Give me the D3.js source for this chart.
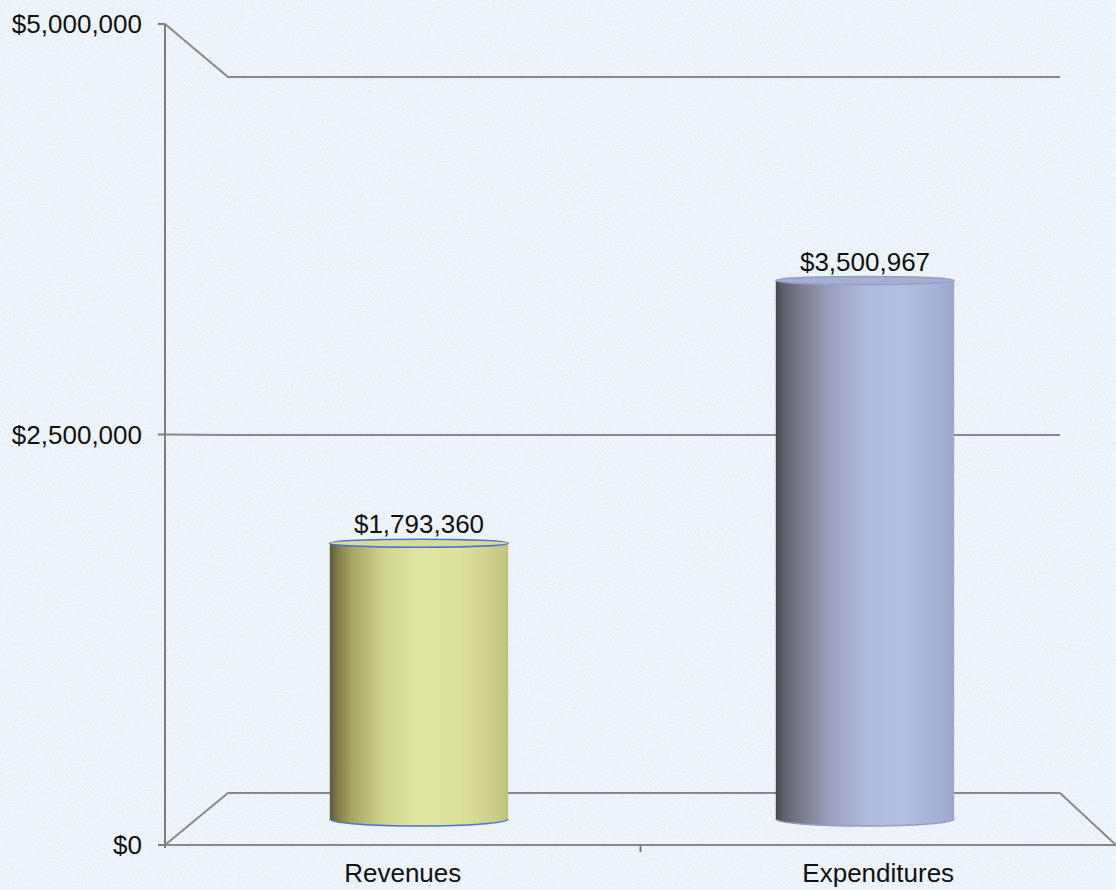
<!DOCTYPE html>
<html>
<head>
<meta charset="utf-8">
<script src="https://cdn.jsdelivr.net/npm/d3@7"></script>
<style>
  html, body { margin: 0; padding: 0; background: #eef5fb; }
  svg { display: block; }
  text { font-family: "Liberation Sans", Arial, sans-serif; fill: #111; }
</style>
</head>
<body>
<div id="chart"></div>
<script>
// data
var categories = ["Revenues", "Expenditures"];
var values = [1793360, 3500967];
var valueLabels = ["$1,793,360", "$3,500,967"];
var tickValues = [0, 2500000, 5000000];
var tickLabels = ["$0", "$2,500,000", "$5,000,000"];

var width = 1116, height = 890;

var svg = d3.select("#chart").append("svg")
    .attr("width", width)
    .attr("height", height);

var defs = svg.append("defs");

// faint scan texture
var noise = defs.append("filter").attr("id", "noise")
    .attr("x", 0).attr("y", 0).attr("width", "100%").attr("height", "100%");
noise.append("feTurbulence").attr("type", "fractalNoise")
    .attr("baseFrequency", 0.7).attr("numOctaves", 2).attr("seed", 3);
noise.append("feColorMatrix").attr("type", "matrix")
    .attr("values", "0 0 0 0 0.6  0 0 0 0 0.65  0 0 0 0 0.75  0 0 0 -1.2 0.75");

svg.append("rect").attr("width", width).attr("height", height).attr("fill", "#eef5fb");
svg.append("rect").attr("width", width).attr("height", height)
    .attr("filter", "url(#noise)").attr("opacity", 0.35);

// 3d-ish projection: front plane, back plane and mid plane where the cylinders stand
var yFront = d3.scaleLinear().domain([0, 5000000]).range([845, 24]);
var yBack = d3.scaleLinear().domain([0, 5000000]).range([793, 77]);
var yMid = d3.scaleLinear().domain([0, 5000000]).range([819, 50]);

var xFront = d3.scaleBand().domain(categories).range([165, 1116]);
var xMid = d3.scaleBand().domain(categories).range([196, 1088]);
var backLeft = 228, backRight = 1060;

var gridColor = "#8c8888";

// gridlines (left wall diagonal + back wall)
var grid = svg.append("g").attr("fill", "none").attr("stroke", gridColor).attr("stroke-width", 2);
tickValues.forEach(function (t) {
    grid.append("polyline")
        .attr("points", [[165, yFront(t)], [backLeft, yBack(t)], [backRight, yBack(t)]].join(" "));
});
// floor front edge and right edge
grid.append("polyline")
    .attr("points", [[165, yFront(0)], [1116, yFront(0)], [backRight, yBack(0)]].join(" "));

// value axis
var axis = svg.append("g").attr("stroke", "#807c7c").attr("stroke-width", 2);
axis.append("line").attr("x1", 165).attr("x2", 165).attr("y1", yFront(5000000)).attr("y2", yFront(0) + 3);
tickValues.forEach(function (t) {
    axis.append("line").attr("x1", 158).attr("x2", 165).attr("y1", yFront(t)).attr("y2", yFront(t));
});
// category separator tick
axis.append("line")
    .attr("x1", xFront("Expenditures")).attr("x2", xFront("Expenditures"))
    .attr("y1", yFront(0)).attr("y2", yFront(0) + 7);

svg.append("g").selectAll("text")
    .data(tickValues)
    .join("text")
    .attr("x", 142)
    .attr("y", function (d) { return yFront(d) + 9; })
    .attr("text-anchor", "end")
    .attr("font-size", 26)
    .text(function (d, i) { return tickLabels[i]; });

// cylinder gradients
function gradient(id, stops) {
    var g = defs.append("linearGradient").attr("id", id)
        .attr("x1", "0%").attr("x2", "100%").attr("y1", "0%").attr("y2", "0%");
    stops.forEach(function (s) {
        g.append("stop").attr("offset", s[0]).attr("stop-color", s[1]);
    });
}
gradient("gRev", [["0%", "#5e5a3a"], ["4%", "#7e7a48"], ["12%", "#a6a462"], ["30%", "#cfd48c"],
                  ["50%", "#e0e6a2"], ["72%", "#dde29c"], ["90%", "#cdd08a"], ["100%", "#c0c27e"]]);
gradient("gExp", [["0%", "#45454e"], ["4%", "#5e5f6a"], ["14%", "#7a7c8a"], ["30%", "#9aa0bc"],
                  ["50%", "#b0b9de"], ["70%", "#b4bee2"], ["88%", "#a9b2d8"], ["100%", "#9ca5ca"]]);

var fills = ["url(#gRev)", "url(#gExp)"];
var topFills = ["#d6dc94", "#a6afd2"];
var outlines = ["#4d72d6", "#959dc0"];

var cylW = xMid.bandwidth() * 0.4;
var ryBottom = 7, ryTop = 4;

var bars = svg.append("g").selectAll("g")
    .data(categories)
    .join("g");

bars.each(function (c, i) {
    var g = d3.select(this);
    var cx = xMid(c) + xMid.bandwidth() / 2;
    var x0 = cx - cylW / 2, x1 = cx + cylW / 2;
    var yTop = yMid(values[i]), yBot = yMid(0);
    var body = "M" + x0 + "," + yTop +
        " L" + x0 + "," + yBot +
        " A" + (cylW / 2) + "," + ryBottom + " 0 0 0 " + x1 + "," + yBot +
        " L" + x1 + "," + yTop + " Z";
    g.append("path").attr("d", body).attr("fill", fills[i]);
    g.append("path")
        .attr("d", "M" + x0 + "," + yBot + " A" + (cylW / 2) + "," + ryBottom + " 0 0 0 " + x1 + "," + yBot)
        .attr("fill", "none").attr("stroke", outlines[i]).attr("stroke-width", 1.5);
    g.append("ellipse")
        .attr("cx", cx).attr("cy", yTop)
        .attr("rx", cylW / 2).attr("ry", ryTop)
        .attr("fill", topFills[i])
        .attr("stroke", outlines[i]).attr("stroke-width", 1.5);
    g.append("text")
        .attr("x", cx)
        .attr("y", yTop - 10)
        .attr("text-anchor", "middle")
        .attr("font-size", 26)
        .text(valueLabels[i]);
});

// category labels
svg.append("g").selectAll("text")
    .data(categories)
    .join("text")
    .attr("x", function (d) { return xFront(d) + xFront.bandwidth() / 2; })
    .attr("y", 882)
    .attr("text-anchor", "middle")
    .attr("font-size", 26)
    .text(function (d) { return d; });
</script>
</body>
</html>
